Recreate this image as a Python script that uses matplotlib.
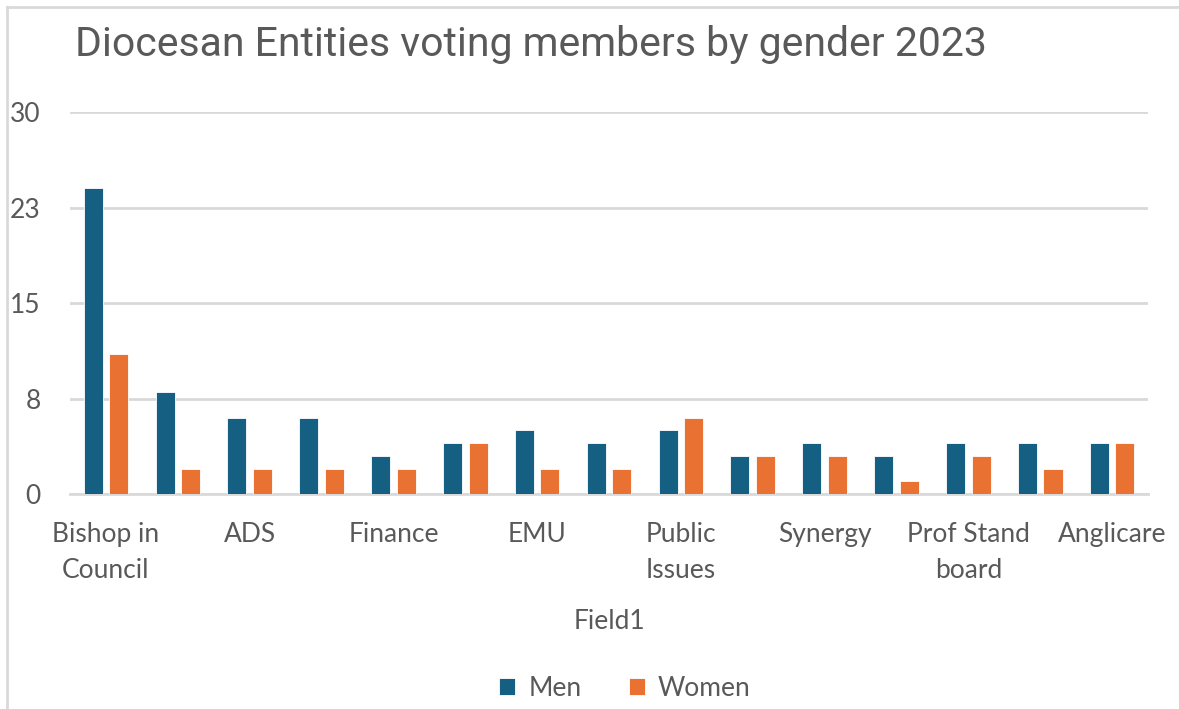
import numpy as np
import matplotlib
matplotlib.use("Agg")
import matplotlib.pyplot as plt

# data
categories = ["Bishop in\nCouncil", "", "ADS", "", "Finance", "", "EMU", "",
              "Public\nIssues", "", "Synergy", "", "Prof Stand\nboard", "", "Anglicare"]
men = [24, 8, 6, 6, 3, 4, 5, 4, 5, 3, 4, 3, 4, 4, 4]
women = [11, 2, 2, 2, 2, 4, 2, 2, 6, 3, 3, 1, 3, 2, 4]
yticks = [0, 7.5, 15, 22.5, 30]
ytick_labels = ["0", "8", "15", "23", "30"]

plt.rcParams['font.family'] = ['Lato', 'DejaVu Sans']
grey = '#595959'

fig = plt.figure(figsize=(11.79, 7.09), dpi=100)
ax = fig.add_axes([0.0594, 0.3032, 0.9143, 0.5388])

x = np.arange(len(categories))
w = 0.265
off = 0.178
ax.bar(x - off, men, w, color='#156082', edgecolor='white', linewidth=0.6, label='Men', zorder=3)
ax.bar(x + off, women, w, color='#E97132', edgecolor='white', linewidth=0.6, label='Women', zorder=3)

ax.set_xlim(-0.5, len(categories) - 0.5)
ax.set_ylim(0, 30)
ax.set_yticks(yticks)
ax.set_yticklabels(ytick_labels)
ax.set_xticks(x)
ax.set_xticklabels(categories, linespacing=1.55)
ax.tick_params(axis='both', length=0, labelsize=19, labelcolor=grey)
ax.tick_params(axis='y', pad=21)
ax.tick_params(axis='x', pad=20)

ax.grid(axis='y', color='#d9d9d9', linewidth=2, zorder=0)
for s in ['top', 'right', 'left']:
    ax.spines[s].set_visible(False)
ax.spines['bottom'].set_color('#d9d9d9')
ax.spines['bottom'].set_linewidth(2)

ax.set_xlabel('Field1', fontsize=19, color=grey, labelpad=19)

fig.text(0.0636, 0.937, 'Diocesan Entities voting members by gender 2023',
         fontsize=29.5, color=grey, family=['Roboto', 'DejaVu Sans'], va='center')

leg = fig.legend(loc='center', bbox_to_anchor=(0.53, 0.029), ncol=2, frameon=False,
                 fontsize=19, handlelength=0.6, handleheight=0.6, columnspacing=1.8,
                 handletextpad=0.5)
for t in leg.get_texts():
    t.set_color(grey)

# chart frame (left and top edges visible)
fig.add_artist(plt.Line2D([0.0059, 0.0059], [0, 0.99], transform=fig.transFigure,
                          color='#d9d9d9', linewidth=2))
fig.add_artist(plt.Line2D([0.0059, 1], [0.99, 0.99], transform=fig.transFigure,
                          color='#d9d9d9', linewidth=2))

fig.savefig('out.png', dpi=100)
